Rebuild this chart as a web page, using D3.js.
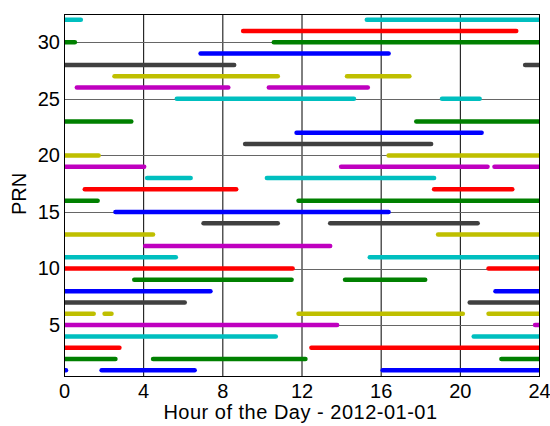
<!DOCTYPE html>
<meta charset="utf-8">
<style>
body {
  margin: 0;
  background: #fff;
}
text {
  font-family: "Liberation Sans", Arial, sans-serif;
}
</style>
<body>
<script src="https://d3js.org/d3.v7.min.js"></script>
<script>
var width = 550;
var height = 426;
var margin = {top: 14, right: 11, bottom: 50, left: 64};

// PRN colour order (MATLAB style b g r c m y k)
var colors = ["#0000ff", "#008000", "#ff0000", "#00bfbf", "#bf00bf", "#bfbf00", "#404040"];

var xTicks = [0, 4, 8, 12, 16, 20, 24];
var yTicks = [5, 10, 15, 20, 25, 30];

// visibility passes per PRN: [start hour, end hour]
var prn1 = [[0, 0.1], [1.9, 6.6], [16.1, 24]];
var prn2 = [[0, 2.6], [4.5, 12.2], [22.1, 24]];
var prn3 = [[0, 2.8], [12.5, 24]];
var prn4 = [[0, 10.7], [20.7, 24]];
var prn5 = [[0, 13.8], [23.8, 24]];
var prn6 = [[0, 1.5], [2.05, 2.4], [11.85, 20.15], [21.45, 24]];
var prn7 = [[0, 6.1], [20.5, 24]];
var prn8 = [[0, 7.4], [21.8, 24]];
var prn9 = [[3.55, 11.5], [14.2, 18.25]];
var prn10 = [[0, 11.55], [21.45, 24]];
var prn11 = [[0, 5.65], [15.45, 24]];
var prn12 = [[4.1, 13.45]];
var prn13 = [[0, 4.5], [18.9, 24]];
var prn14 = [[7.05, 10.8], [13.45, 20.9]];
var prn15 = [[2.6, 16.4]];
var prn16 = [[0, 1.7], [11.85, 24]];
var prn17 = [[1.05, 8.7], [18.7, 22.65]];
var prn18 = [[4.2, 6.4], [10.25, 18.7]];
var prn19 = [[0, 4.05], [14.0, 21.4], [21.75, 24]];
var prn20 = [[0, 1.75], [16.4, 24]];
var prn21 = [[9.15, 18.55]];
var prn22 = [[11.75, 21.1]];
var prn23 = [[0, 3.4], [17.8, 24]];
var prn24 = [];
var prn25 = [[5.7, 14.65], [19.1, 21.0]];
var prn26 = [[0.65, 8.3], [10.35, 15.35]];
var prn27 = [[2.55, 10.8], [14.3, 17.45]];
var prn28 = [[0, 8.6], [23.3, 24]];
var prn29 = [[6.9, 16.4]];
var prn30 = [[0, 0.55], [10.6, 24]];
var prn31 = [[9.05, 22.85]];
var prn32 = [[0, 0.85], [15.3, 24]];

var passes = [prn1, prn2, prn3, prn4, prn5, prn6, prn7, prn8, prn9, prn10,
  prn11, prn12, prn13, prn14, prn15, prn16, prn17, prn18, prn19, prn20,
  prn21, prn22, prn23, prn24, prn25, prn26, prn27, prn28, prn29, prn30,
  prn31, prn32];

var segs = [];
passes.forEach(function(list, i) {
  list.forEach(function(p) {
    segs.push({prn: i + 1, t0: p[0], t1: p[1]});
  });
});

var svg = d3.select("body").append("svg")
    .attr("width", width)
    .attr("height", height);

var x = d3.scaleLinear().domain([0, 24]).range([margin.left, width - margin.right]);
var y = d3.scaleLinear().domain([0.5, 32.5]).range([height - margin.bottom, margin.top]);

svg.append("clipPath").attr("id", "plotclip")
  .append("rect")
    .attr("x", x(0)).attr("y", y(32.5))
    .attr("width", x(24) - x(0)).attr("height", y(0.5) - y(32.5));

// grid
svg.append("g").selectAll("line")
    .data(xTicks.slice(1, -1))
  .enter().append("line")
    .attr("x1", function(d) { return x(d) + 0.5; })
    .attr("x2", function(d) { return x(d) + 0.5; })
    .attr("y1", y(0.5)).attr("y2", y(32.5))
    .style("stroke", "#000").style("stroke-width", 1);
svg.append("g").selectAll("line")
    .data(yTicks)
  .enter().append("line")
    .attr("x1", x(0)).attr("x2", x(24))
    .attr("y1", function(d) { return Math.round(y(d)) + 0.5; })
    .attr("y2", function(d) { return Math.round(y(d)) + 0.5; })
    .style("stroke", "#666").style("stroke-width", 1);

// passes
svg.append("g").attr("clip-path", "url(#plotclip)")
  .selectAll("line")
    .data(segs)
  .enter().append("line")
    .attr("x1", function(d) { return x(d.t0); })
    .attr("x2", function(d) { return x(d.t1); })
    .attr("y1", function(d) { return y(d.prn); })
    .attr("y2", function(d) { return y(d.prn); })
    .style("stroke", function(d) { return colors[(d.prn - 1) % 7]; })
    .style("stroke-width", 4.5)
    .style("stroke-linecap", "round");

// axes
var xAxis = svg.append("g")
    .attr("transform", "translate(0," + y(0.5) + ")")
    .call(d3.axisBottom(x).tickValues(xTicks).tickSize(0).tickPadding(8));
var yAxis = svg.append("g")
    .attr("transform", "translate(" + x(0) + ",0)")
    .call(d3.axisLeft(y).tickValues(yTicks).tickSize(0).tickPadding(4));
[xAxis, yAxis].forEach(function(a) {
  a.select(".domain").remove();
  a.selectAll("text").style("font-size", "20px").style("fill", "#000");
});

// box
svg.append("rect")
    .attr("x", x(0) + 0.5).attr("y", y(32.5) + 0.5)
    .attr("width", x(24) - x(0)).attr("height", y(0.5) - y(32.5))
    .style("fill", "none").style("stroke", "#000").style("stroke-width", 1);

svg.append("text")
    .attr("x", (x(0) + x(24)) / 2 - 1).attr("y", 419)
    .attr("text-anchor", "middle")
    .style("font-size", "20px")
    .style("letter-spacing", "0.5px")
    .text("Hour of the Day - 2012-01-01");

svg.append("text")
    .attr("transform", "translate(26," + 194 + ") rotate(-90)")
    .attr("text-anchor", "middle")
    .style("font-size", "20px")
    .text("PRN");
</script>
